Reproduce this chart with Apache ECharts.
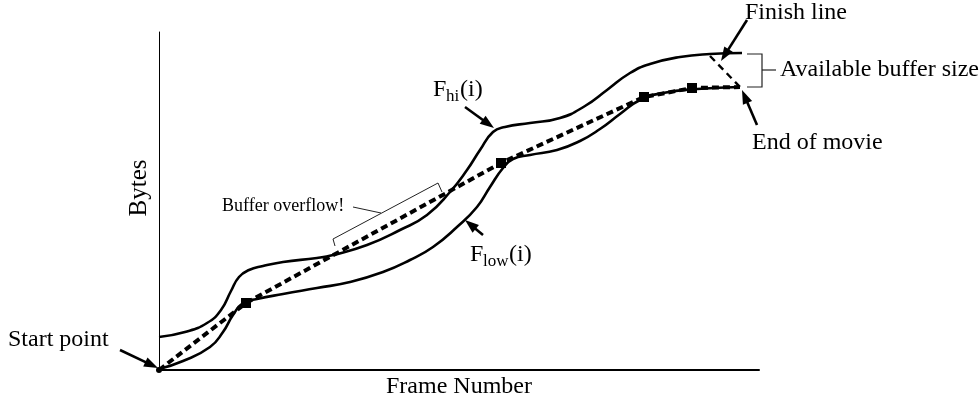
<!DOCTYPE html>
<html><head><meta charset="utf-8">
<script src="https://cdn.jsdelivr.net/npm/echarts@6/dist/echarts.min.js"></script>
<style>html,body{margin:0;padding:0;background:#fff}#c{width:980px;height:402px}</style>
</head><body><div id="c"></div>
<script>
// Data (frame number, cumulative bytes) in axis units
const hiFrames  = [0,26,48,62,72,80,90,104,124,158,174,208,241,268,291,308,321,334,346,371,401,426,448,471,491,521,551,583];
const hiBytes   = [33,38,47,60,79,93,100,104,108,112,115,125,140,155,178,200,220,238,243,247,252,264,280,297,306,313,316,317];
const lowFrames = [0,24,51,64,74,84,98,124,158,191,224,251,274,298,318,331,344,354,371,398,421,441,461,481,504,538,581];
const lowBytes  = [1,9,23,38,55,67,71,76,82,88,98,110,123,143,163,183,202,211,215,220,229,241,256,270,277,281,283];
const planFrames = [0,87,342,485,533,581];
const planBytes  = [0,67,207,273,282,283];
const finishFrames = [551,581];
const finishBytes  = [314,283];
const xMax = 600, yMax = 338;

const FONT = '"Liberation Serif","Times New Roman",serif';
const chart = echarts.init(document.getElementById('c'), null, {renderer:'canvas'});

function pairs(xs, ys){ return xs.map((x,i)=>[x, ys[i]]); }

const planData = planFrames.map((x,i)=>{
  const d = {value:[x, planBytes[i]]};
  if (i===0) { d.symbol='circle'; d.symbolSize=6; }
  else if (i===planFrames.length-1) { d.symbol='none'; }
  return d;
});

function arrow(x1,y1,x2,y2){
  const dx=x2-x1, dy=y2-y1, L=Math.hypot(dx,dy), ux=dx/L, uy=dy/L;
  const hl=14, hw=5;
  const bx=x2-ux*hl, by=y2-uy*hl;
  return [
    {type:'line', shape:{x1:x1,y1:y1,x2:bx+ux*2,y2:by+uy*2}, style:{stroke:'#000', lineWidth:2.6}},
    {type:'polygon', shape:{points:[[x2,y2],[bx-uy*hw,by+ux*hw],[bx+uy*hw,by-ux*hw]]}, style:{fill:'#000'}}
  ];
}
function txt(x,y,t,size,align){
  return {type:'text', x:x, y:y, style:{text:t, font: size+'px '+FONT, fill:'#000', textAlign:align||'left', textVerticalAlign:'middle'}};
}
function poly(pts,w){
  return {type:'polyline', shape:{points:pts}, style:{stroke:'#222', lineWidth:w||1, fill:null}};
}

const graphics = [].concat(
  arrow(120,350,158,368),
  arrow(747,20,721,61),
  arrow(757,125,742,90),
  arrow(465,107,494,128),
  arrow(483,235,465,220),
  [
    txt(8,340,'Start point',24),
    txt(745,13,'Finish line',24),
    txt(780,70,'Available buffer size',24),
    txt(752,143,'End of movie',24),
    txt(222,206,'Buffer overflow!',18),
    // F_hi(i)
    txt(433,90,'F',24), txt(446,97,'hi',17), txt(460,90,'(i)',24),
    // F_low(i)
    txt(470,255,'F',24), txt(483,262,'low',17), txt(509,255,'(i)',24),
    poly([[335,246],[333,239],[438,183],[442,192]],1),
    poly([[353,207],[381,213]],1),
    poly([[747,54],[762,54],[762,87],[747,87]],1.2),
    poly([[762,70],[776,70]],1.2)
  ]
);

chart.setOption({
  animation:false,
  backgroundColor:'#fff',
  grid:{left:159, right:221, top:32, bottom:32, containLabel:false, outerBoundsMode:'none'},
  xAxis:{type:'value', min:0, max:xMax, name:'Frame Number', nameLocation:'middle', nameGap:5,
    nameTextStyle:{fontFamily:FONT, fontSize:24, color:'#000'},
    axisLine:{show:true, onZero:false, lineStyle:{color:'#000', width:2}},
    axisTick:{show:false}, axisLabel:{show:false}, splitLine:{show:false}},
  yAxis:{type:'value', min:0, max:yMax, name:'Bytes', nameLocation:'middle', nameGap:7,
    nameTextStyle:{fontFamily:FONT, fontSize:25, color:'#000', padding:[0,0,0,26]},
    axisLine:{show:true, onZero:false, lineStyle:{color:'#000', width:1}},
    axisTick:{show:false}, axisLabel:{show:false}, splitLine:{show:false}},
  series:[
    {type:'line', data:pairs(hiFrames,hiBytes), smooth:0.5, showSymbol:false, lineStyle:{color:'#000', width:2.6}, z:3},
    {type:'line', data:pairs(lowFrames,lowBytes), smooth:0.5, showSymbol:false, lineStyle:{color:'#000', width:2.6}, z:3},
    {type:'line', data:planData, smooth:false, symbol:'rect', symbolSize:10, showSymbol:true,
      itemStyle:{color:'#000'}, lineStyle:{color:'#000', width:4, type:[7,4]}, z:4},
    {type:'line', data:pairs(finishFrames,finishBytes), showSymbol:false, lineStyle:{color:'#000', width:2.4, type:[7,5]}, z:3}
  ],
  graphic: graphics
});
</script></body></html>
